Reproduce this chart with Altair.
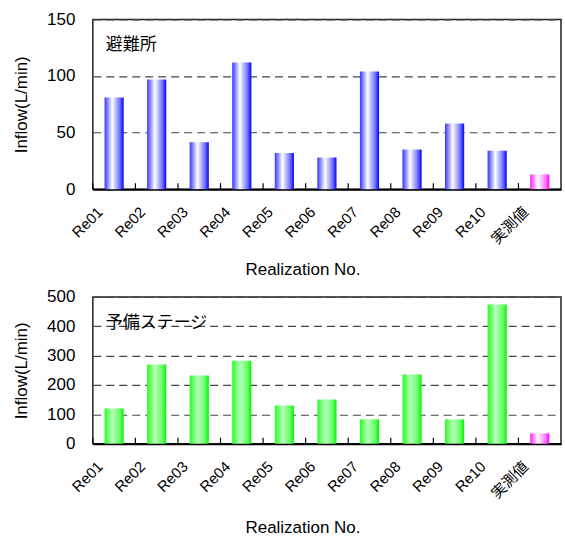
import altair as alt
import pandas as pd

categories = ["Re01", "Re02", "Re03", "Re04", "Re05", "Re06", "Re07", "Re08", "Re09", "Re10", "実測値"]
top_values = [81, 97, 41.5, 112, 32, 28, 104, 35, 58, 34, 13]
bottom_values = [120, 270, 232, 283, 130, 151, 83, 236, 83, 474, 35]
measured_label = "実測値"
top_note = "避難所"
bottom_note = "予備ステージ"
x_title = "Realization No."
y_title = "Inflow(L/min)"

FONT = "Liberation Sans, Arial, Noto Sans CJK JP"


def grad(edge_l, mid, edge_r2, edge_r):
    return alt.LinearGradient(
        gradient="linear",
        x1=0, x2=1, y1=0, y2=0,
        stops=[
            alt.GradientStop(offset=0, color=edge_l),
            alt.GradientStop(offset=0.4, color=mid),
            alt.GradientStop(offset=0.8, color=edge_r2),
            alt.GradientStop(offset=1, color=edge_r),
        ],
    )


blue = grad("#3535ff", "#ffffff", "#7070ff", "#0000ff")
green = grad("#22ff22", "#b8ffb8", "#66ff66", "#00f000")
magenta = grad("#ff22ff", "#ffffff", "#ff77ff", "#ff00ff")


def panel(values, ymax, ystep, note, bar_grad, w, h, title_y):
    df = pd.DataFrame({"cat": categories, "val": values})
    xenc = alt.X(
        "cat:N",
        sort=categories,
        scale=alt.Scale(paddingInner=0, paddingOuter=0),
        axis=alt.Axis(
            title=x_title,
            labelAngle=315,
            labelAlign="right",
            labelBaseline="middle",
            labelOffset=-14,
            labelPadding=20,
            ticks=False,
            domainColor="#000",
            domainWidth=2,
            labelFontSize=15,
            titleFontSize=17,
            titleX=210,
            titleY=title_y,
            titleBaseline="top",
            titleFontWeight="normal",
        ),
    )
    yenc = alt.Y(
        "val:Q",
        scale=alt.Scale(domain=[0, ymax], nice=False),
        axis=alt.Axis(
            title=y_title,
            values=list(range(0, ymax + 1, ystep)),
            ticks=False,
            domain=False,
            labelPadding=18,
            labelFontSize=17,
            titleFontSize=17,
            titlePadding=16,
            titleFontWeight="normal",
            grid=True,
            gridDash=[8, 5],
            gridColor="#444",
            gridWidth=1.2,
        ),
    )
    base = alt.Chart(df)
    bars = base.mark_bar(
        width=alt.RelativeBandSize(0.45), color=bar_grad
    ).encode(x=xenc, y=yenc).transform_filter(alt.datum.cat != measured_label)
    meas = base.mark_bar(
        width=alt.RelativeBandSize(0.45), color=magenta
    ).encode(x=xenc, y=yenc).transform_filter(alt.datum.cat == measured_label)
    ticks = base.mark_rule(color="#000", strokeWidth=1.2).encode(
        x=alt.X("cat:N", sort=categories, bandPosition=0),
        y=alt.value(h),
        y2=alt.value(h - 6),
    )
    label = alt.Chart(pd.DataFrame({"t": [note]})).mark_text(
        align="left", baseline="middle", fontSize=17, font=FONT, color="#000"
    ).encode(x=alt.value(13), y=alt.value(26), text="t:N")
    return alt.layer(bars, meas, ticks, label).properties(width=w, height=h)


top = panel(top_values, 150, 50, top_note, blue, 469, 170, 73)
bottom = panel(bottom_values, 500, 100, bottom_note, green, 469, 147, 76)

chart = alt.vconcat(top, bottom, spacing=8).properties(
    padding={"top": 9, "left": 11, "right": 3, "bottom": 2}
).configure(font=FONT).configure_view(
    stroke="#222", strokeWidth=1.5
).configure_axis(
    labelColor="#000", titleColor="#000", labelFont=FONT, titleFont=FONT
)

chart.save("out.html", embed_options={"renderer": "svg", "actions": False})
